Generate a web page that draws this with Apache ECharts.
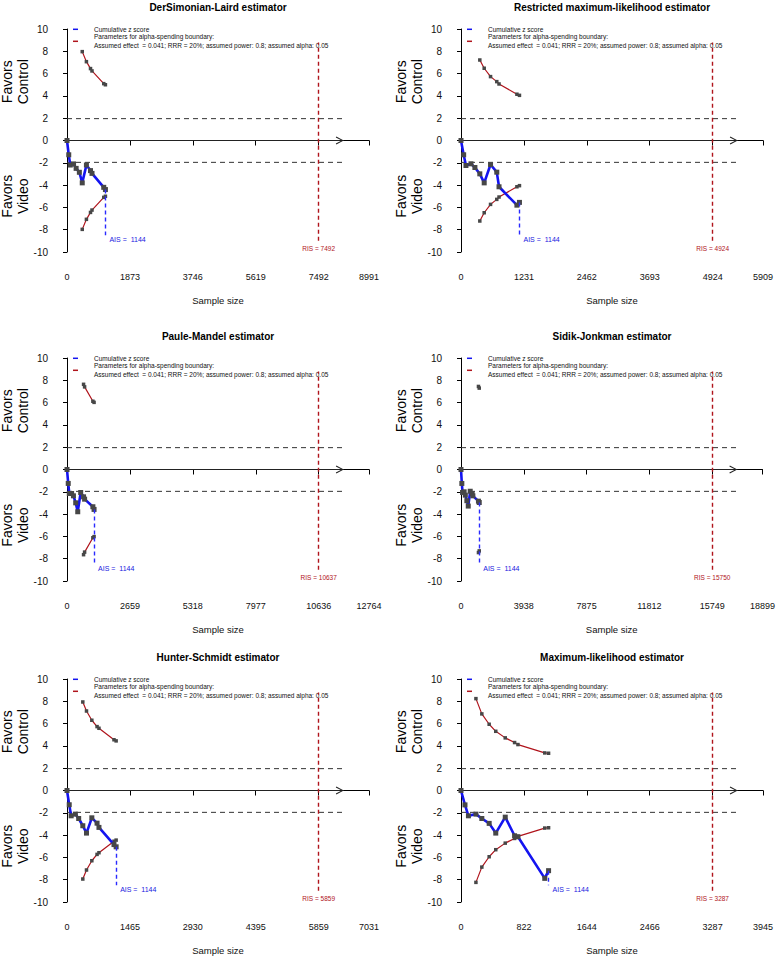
<!DOCTYPE html>
<html>
<head>
<meta charset="utf-8">
<script src="https://cdn.jsdelivr.net/npm/echarts@6/dist/echarts.min.js"></script>
<style>
html, body { margin: 0; padding: 0; background: #fff; }
#chart { width: 778px; height: 958px; }
</style>
</head>
<body>
<div id="chart"></div>
<script>
// cumulative sample size after each trial (same for every panel)
var sampleSizes = [0, 52, 97, 195, 272, 368, 454, 578, 700, 744, 1094, 1144];
var aisValue = 1144;

var estimators = [
    'DerSimonian-Laird estimator',
    'Restricted maximum-likelihood estimator',
    'Paule-Mandel estimator',
    'Sidik-Jonkman estimator',
    'Hunter-Schmidt estimator',
    'Maximum-likelihood estimator'
];

var risValues = [7492, 4924, 10637, 15750, 5859, 3287];

var xTickLabels = [
    ['0', '1873', '3746', '5619', '7492', '8991'],
    ['0', '1231', '2462', '3693', '4924', '5909'],
    ['0', '2659', '5318', '7977', '10636', '12764'],
    ['0', '3938', '7875', '11812', '15749', '18899'],
    ['0', '1465', '2930', '4395', '5859', '7031'],
    ['0', '822', '1644', '2466', '3287', '3945']
];

// cumulative z score, one value per trial
var zDL  = [0, -1.28, -2.2, -2.1, -2.5, -2.85, -3.8, -2.2, -2.7, -2.95, -4.2, -4.4];
var zREML = [0, -1.28, -2.24, -2.09, -2.42, -2.99, -3.8, -2.15, -2.84, -4.15, -5.8, -5.55];
var zPM  = [0, -1.25, -2.15, -2.15, -2.36, -2.99, -3.79, -2.06, -2.45, -2.66, -3.34, -3.58];
var zSJ  = [0, -1.25, -2.06, -2.0, -2.3, -2.8, -3.28, -1.95, -2.15, -2.36, -2.84, -2.96];
var zHS  = [0, -1.28, -2.27, -2.12, -2.51, -3.16, -3.82, -2.45, -2.93, -3.31, -4.85, -5.05];
var zML  = [0, -1.29, -2.27, -2.12, -2.51, -2.95, -3.82, -2.39, -4.06, -4.15, -7.88, -7.19];

// alpha-spending boundary (upper half, lower one is mirrored), first trial index where it starts
var boundStart = [6, 5, 8, 10, 5, 3];
var boundDL  = [7.97, 7.07, 6.45, 6.24, 5.1, 5.0];
var boundREML = [7.22, 6.48, 5.73, 5.28, 5.07, 4.15, 4.05];
var boundPM  = [7.64, 7.41, 6.12, 6.02];
var boundSJ  = [7.45, 7.3];
var boundHS  = [7.94, 7.13, 6.3, 5.73, 5.58, 4.55, 4.45];
var boundML  = [8.24, 6.87, 5.94, 5.31, 4.72, 4.30, 4.12, 3.37, 3.34];

var conventional = 1.96;

var zList = [zDL, zREML, zPM, zSJ, zHS, zML];
var boundList = [boundDL, boundREML, boundPM, boundSJ, boundHS, boundML];

var zName = 'Cumulative z score';
var boundName = 'Parameters for alpha-spending boundary:\nAssumed effect  = 0.041; RRR = 20%; assumed power: 0.8; assumed alpha: 0.05';

var FONT = '"Liberation Sans", Arial, Helvetica, sans-serif';
var BLUE = '#1414f0';
var RED = '#b0141c';
var MARK = '#474747';

// panel layout (plot area in pixels)
var rowTops = [29, 358, 679];
var colLefts = [67, 461];
var plotW = 302, plotH = 223;

// open arrow head pointing right, tip on the right edge
var chevron = 'path://M0,0 L9.2,5 L0,10 L-0.6,8.9 L6.6,5 L-0.6,1.1 Z';

var chart = echarts.init(document.getElementById('chart'), null, { renderer: 'svg' });

var grids = [], xAxes = [], yAxes = [], series = [], legends = [], graphics = [];

function refLine(i, data, style) {
    return {
        type: 'line', xAxisIndex: i, yAxisIndex: i, data: data,
        symbol: 'none', lineStyle: style, z: 2, silent: true, animation: false
    };
}

for (let i = 0; i < 6; i++) {
    let row = Math.floor(i / 2), col = i % 2;
    let left = colLefts[col], top = rowTops[row];
    let ris = risValues[i];
    let labels = xTickLabels[i];
    let zs = zList[i];
    let lineEnd = ris * 1.1;

    grids.push({ left: left, top: top, width: plotW, height: plotH });

    xAxes.push({
        gridIndex: i,
        type: 'value',
        min: 0,
        max: Number(labels[labels.length - 1]),
        interval: ris / 4,
        offset: 10,
        name: 'Sample size',
        nameLocation: 'middle',
        nameGap: 33,
        nameTextStyle: { fontFamily: FONT, fontSize: 9.5, color: '#111' },
        axisLine: { show: true, lineStyle: { color: '#000', width: 1 } },
        axisTick: { show: true, length: 5, lineStyle: { color: '#000' } },
        axisLabel: {
            fontFamily: FONT, fontSize: 9, color: '#111', margin: 10,
            showMinLabel: true, showMaxLabel: true,
            formatter: function (v, idx) { return labels[idx]; }
        },
        splitLine: { show: false }
    });

    yAxes.push({
        gridIndex: i,
        type: 'value',
        min: -10,
        max: 10,
        interval: 2,
        offset: 12,
        axisLine: { show: true, lineStyle: { color: '#000', width: 1 } },
        axisTick: { show: true, length: 4, lineStyle: { color: '#000' } },
        axisLabel: { fontFamily: FONT, fontSize: 10, color: '#111', margin: 7, showMinLabel: true, showMaxLabel: true },
        splitLine: { show: false }
    });

    // conventional boundaries +-1.96 and the zero line with its arrow head
    let dashStyle = { color: '#333', type: [5, 4], width: 1 };
    series.push(refLine(i, [[0, conventional], [lineEnd, conventional]], dashStyle));
    series.push(refLine(i, [[0, -conventional], [lineEnd, -conventional]], dashStyle));
    let zeroLine = refLine(i, [[0, 0], [lineEnd, 0]], { color: '#222', type: 'solid', width: 1 });
    zeroLine.markPoint = {
        silent: true, animation: false,
        symbol: chevron, symbolSize: [8, 8], symbolOffset: [-4, 0],
        itemStyle: { color: '#222' },
        label: { show: false },
        data: [{ coord: [lineEnd, 0] }]
    };
    series.push(zeroLine);

    let bound = boundList[i];
    let upper = [], lower = [];
    for (let k = 0; k < bound.length; k++) {
        let n = sampleSizes[boundStart[i] + k];
        upper.push([n, bound[k]]);
        lower.push([n, -bound[k]]);
    }
    let zData = sampleSizes.map(function (n, k) { return [n, zs[k]]; });
    let lastZ = zs[zs.length - 1];

    let boundSeries = {
        type: 'line', name: boundName, xAxisIndex: i, yAxisIndex: i,
        symbol: 'rect', symbolSize: 3.5, showAllSymbol: true,
        itemStyle: { color: MARK },
        lineStyle: { color: RED, width: 1.2 },
        z: 3, silent: true, animation: false
    };
    series.push(Object.assign({}, boundSeries, { data: upper }));
    series.push(Object.assign({}, boundSeries, { data: lower }));

    series.push({
        type: 'line', name: zName, xAxisIndex: i, yAxisIndex: i,
        data: zData,
        symbol: 'rect', symbolSize: 5, showAllSymbol: true,
        itemStyle: { color: MARK },
        lineStyle: { color: BLUE, width: 2.6 },
        z: 4, silent: true, animation: false,
        markLine: {
            silent: true, symbol: 'none', animation: false,
            label: { show: false },
            data: [
                [{ coord: [ris, -9], lineStyle: { color: RED, type: [4, 3], width: 1.4 } }, { coord: [ris, 8.8] }],
                [{ coord: [aisValue, lastZ], lineStyle: { color: '#2a2aff', type: [4, 3], width: 1.4 } }, { coord: [aisValue, -8.5] }]
            ]
        },
        markPoint: {
            silent: true, animation: false,
            symbol: 'rect', symbolSize: 0,
            data: [
                { coord: [ris, -9.7], label: { show: true, position: 'inside', formatter: 'RIS = ' + ris, color: RED, fontFamily: FONT, fontSize: 6.5 } },
                { coord: [aisValue, -8.85], label: { show: true, position: 'right', distance: 4, formatter: 'AIS =  ' + aisValue, color: '#2020e0', fontFamily: FONT, fontSize: 7 } }
            ]
        }
    });

    legends.push({
        left: left + 6, top: top - 4.2,
        orient: 'vertical', padding: 0, itemGap: -1.5,
        icon: 'rect', itemWidth: 5, itemHeight: 1.5,
        selectedMode: false,
        textStyle: { fontFamily: FONT, fontSize: 6.5, lineHeight: 9, color: '#111', padding: [0, 0, 0, 11] },
        data: [
            { name: zName, itemStyle: { color: BLUE, borderWidth: 0 } },
            { name: boundName, itemStyle: { color: RED, borderWidth: 0 } }
        ]
    });

    // title above plot
    graphics.push({
        type: 'text', x: left + plotW / 2, y: top - 21.5, silent: true,
        style: { text: estimators[i], font: 'bold 10px ' + FONT, fill: '#000',
                 align: 'center', verticalAlign: 'middle', textAlign: 'center', textVerticalAlign: 'middle' }
    });
    // side labels
    let sideX = left - 12 - 40;
    [['Favors\nControl', top + plotH * 0.25 - 3], ['Favors\nVideo', top + plotH * 0.75]].forEach(function (s) {
        graphics.push({
            type: 'text', x: sideX, y: s[1], rotation: Math.PI / 2, silent: true,
            style: { text: s[0], font: '14px ' + FONT, lineHeight: 16, fill: '#000',
                     align: 'center', verticalAlign: 'middle', textAlign: 'center', textVerticalAlign: 'middle' }
        });
    });
}

chart.setOption({
    backgroundColor: '#fff',
    animation: false,
    grid: grids,
    xAxis: xAxes,
    yAxis: yAxes,
    legend: legends,
    series: series,
    graphic: graphics
});
</script>
</body>
</html>
